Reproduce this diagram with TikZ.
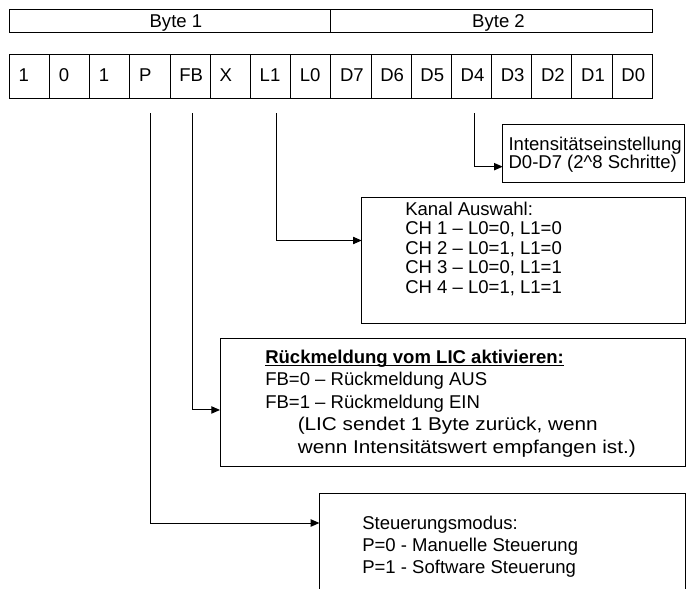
\documentclass[tikz,border=0pt]{standalone}
\usepackage{graphicx}
\usepackage{fontspec}
\setmainfont{Liberation Sans}
\usetikzlibrary{arrows.meta,calc}
\newcommand\myul[1]{\setbox0\hbox{#1}\rlap{\rule[-2.4pt]{\wd0}{0.9pt}}\box0}
\begin{document}
\begin{tikzpicture}[x=0.75pt,y=-0.75pt,
  framebox/.style={draw=black, line width=0.75pt, inner sep=0pt, outer sep=0pt, anchor=north west},
  txt/.style={anchor=base west, inner sep=0pt, font=\fontsize{13.9pt}{16pt}\selectfont},
  ctxt/.style={anchor=base, inner sep=0pt, font=\fontsize{13.9pt}{16pt}\selectfont},
  conn/.style={draw=black, line width=0.75pt, -{Triangle[length=6.5pt,width=5.5pt]}}]
\useasboundingbox (0,0) rectangle (686,589);
\clip (0,0) rectangle (686,589);
% byte header
\node[framebox, minimum width=241.1pt, minimum height=17.25pt] (b1) at (9.3,9.3) {};
\node[framebox, minimum width=241.1pt, minimum height=17.25pt] (b2) at (330.8,9.3) {};
\node[ctxt] (b1t) at (175.9,27.2) {Byte 1};
\node[ctxt] (b2t) at (498.5,27.2) {Byte 2};
% bit cells
\foreach \t [count=\i] in {1,0,1,P,FB,X,L1,L0,D7,D6,D5,D4,D3,D2,D1,D0} {
  \node[framebox, minimum width=30.14pt, minimum height=33pt] (c\i) at ({9.3+(\i-1)*40.19},54.3) {};
  \node[txt] (t\i) at ({9.3+(\i-1)*40.19+9},81.7) {\t};
}
% description boxes
\node[framebox, minimum width=136.7pt, minimum height=44pt] (int) at (502.7,124) {};
\node[framebox, minimum width=242.5pt, minimum height=95pt] (kan) at (361.7,197.3) {};
\node[framebox, minimum width=348.75pt, minimum height=96pt] (rue) at (220,338.5) {};
\node[framebox, minimum width=274.2pt, minimum height=90pt] (steu) at (319.4,493) {};
% texts
\node[txt] (i1) at (508.3,150) {Intensitätseinstellung};
\node[txt] (i2) at (508.3,168.3) {D0-D7 (2\textasciicircum 8 Schritte)};
\node[txt] (k1) at (405,215) {Kanal Auswahl:};
\node[txt] (k2) at (405,234.5) {CH 1 – L0=0, L1=0};
\node[txt] (k3) at (405,254) {CH 2 – L0=1, L1=0};
\node[txt] (k4) at (405,273.5) {CH 3 – L0=0, L1=1};
\node[txt] (k5) at (405,293) {CH 4 – L0=1, L1=1};
\node[txt] (r1) at (265,363) {\bfseries\myul{Rückmeldung vom LIC aktivieren:}};
\node[txt] (r2) at (265,385.5) {FB=0 – Rückmeldung AUS};
\node[txt] (r3) at (265,408) {FB=1 – Rückmeldung EIN};
\node[txt] (r4) at (297.5,430.5) {\scalebox{1.12}[1]{(LIC sendet 1 Byte zurück, wenn}};
\node[txt] (r5) at (297.5,453) {\scalebox{1.12}[1]{wenn Intensitätswert empfangen ist.)}};
\node[txt] (s1) at (362,529.4) {Steuerungsmodus:};
\node[txt] (s2) at (362,551.6) {P=0 - Manuelle Steuerung};
\node[txt] (s3) at (362,573.2) {P=1 - Software Steuerung};
% connectors
\coordinate (sP) at (150,113.3);
\coordinate (sFB) at (192.3,113.3);
\coordinate (sL) at (276.7,113.3);
\coordinate (sD) at (474.3,113.3);
\draw[conn] (sD) |- ([yshift=-32pt]int.north west);
\draw[conn] (sL) |- ([yshift=-32.4pt]kan.north west);
\draw[conn] (sFB) |- ([yshift=-53.6pt]rue.north west);
\draw[conn] (sP) |- ([yshift=-22.5pt]steu.north west);
\end{tikzpicture}
\end{document}
